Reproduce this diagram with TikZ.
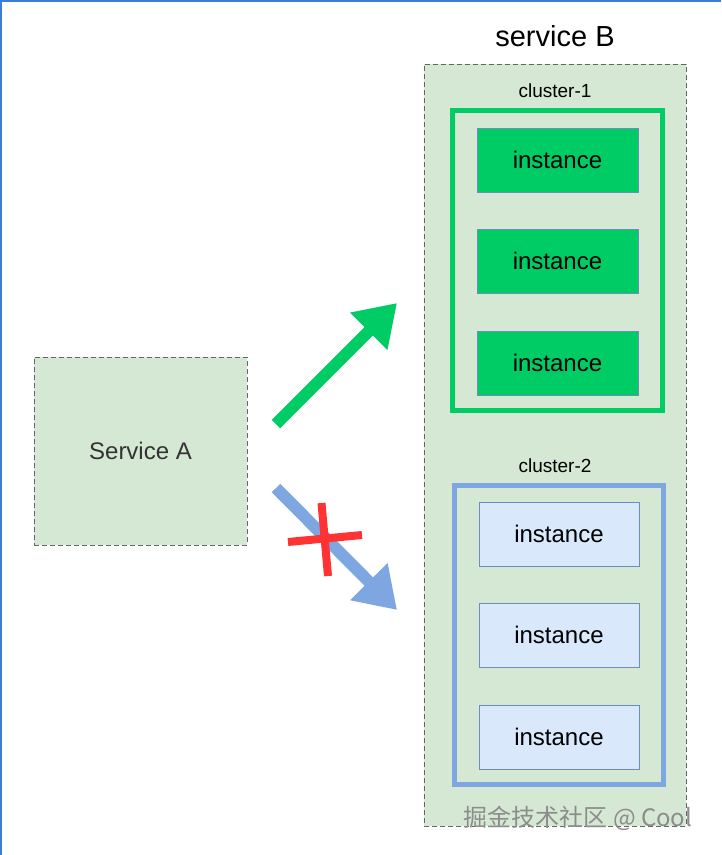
\documentclass[tikz,border=0pt]{standalone}
\usepackage{fontspec}
\setmainfont{Liberation Sans}
\newfontfamily\cjkfont{Noto Sans CJK SC}
\usetikzlibrary{arrows.meta, positioning}

\definecolor{boxgreen}{HTML}{D5E8D4}
\definecolor{boxgray}{HTML}{666666}
\definecolor{okgreen}{HTML}{00CC66}
\definecolor{nogblue}{HTML}{7EA6E0}
\definecolor{lightblue}{HTML}{DAE8FC}
\definecolor{edgeblue}{HTML}{6C8EBF}
\definecolor{crossred}{HTML}{FF3333}
\definecolor{frameblue}{HTML}{3B7DDD}

\tikzset{
    servicebox/.style={draw=boxgray, fill=boxgreen, dash pattern=on 5pt off 3pt, line width=1pt},
    clusterbox/.style={fill=boxgreen, line width=5pt},
    instancebox/.style={draw=edgeblue, line width=1pt, minimum width=161pt, minimum height=64pt, font=\fontsize{24}{28}\selectfont},
    bigarrow/.style={line width=12pt, -{Triangle[length=40pt, width=50pt]}}
}

\begin{document}
\begin{tikzpicture}[x=1pt, y=-1pt]
    % Fix the page to the reference size
    \useasboundingbox (0,0) rectangle (721,855);
    \draw[frameblue, line width=2pt] (1,855) -- (1,1) -- (721,1);

    % Service B with its two clusters
    \node[servicebox, minimum width=262pt, minimum height=762pt] (B) at (555,445) {};
    \node[font=\fontsize{29}{33}\selectfont] (Btitle) at (555,36) {service B};

    % Cluster 1 (reachable)
    \node[font=\fontsize{19}{22}\selectfont] (c1title) at (555,91) {cluster-1};
    \node[clusterbox, draw=okgreen, minimum width=210pt, minimum height=300pt] (c1) at (557.5,260.5) {};
    \foreach \y/\n in {160/1, 261/2, 363/3}
        \node[instancebox, fill=okgreen] (c1i\n) at (557.5,\y) {instance};

    % Cluster 2 (not reachable)
    \node[font=\fontsize{19}{22}\selectfont] (c2title) at (555,466) {cluster-2};
    \node[clusterbox, draw=nogblue, minimum width=209pt, minimum height=299pt] (c2) at (559,635) {};
    \foreach \y/\n in {534/1, 635/2, 737/3}
        \node[instancebox, fill=lightblue, minimum width=160pt] (c2i\n) at (559,\y) {instance};

    % Service A
    \node[servicebox, minimum width=213pt, minimum height=188pt,
          text=black!80, font=\fontsize{24}{28}\selectfont] (A) at (140.5,451) {Service A};

    % Arrows from A towards the clusters
    \coordinate (okfrom) at (276,424);
    \coordinate (okto) at (397,303);
    \coordinate (nofrom) at (276,488);
    \coordinate (noto) at (397,610);
    \draw[bigarrow, okgreen] (okfrom) -- (okto);
    \draw[bigarrow, nogblue] (nofrom) -- (noto);

    % Red cross on the blocked route
    \coordinate (xtop) at (321.5,503);
    \coordinate (xbot) at (328,576);
    \coordinate (xleft) at (288,542);
    \coordinate (xright) at (362,535);
    \draw[crossred, line width=8pt] (xtop) -- (xbot);
    \draw[crossred, line width=8pt] (xleft) -- (xright);

    % Watermark
    \node[text=black!45, font=\fontsize{24}{28}\selectfont] (mark) at (578,818) {\cjkfont 掘金技术社区 @ Cool};
\end{tikzpicture}
\end{document}
